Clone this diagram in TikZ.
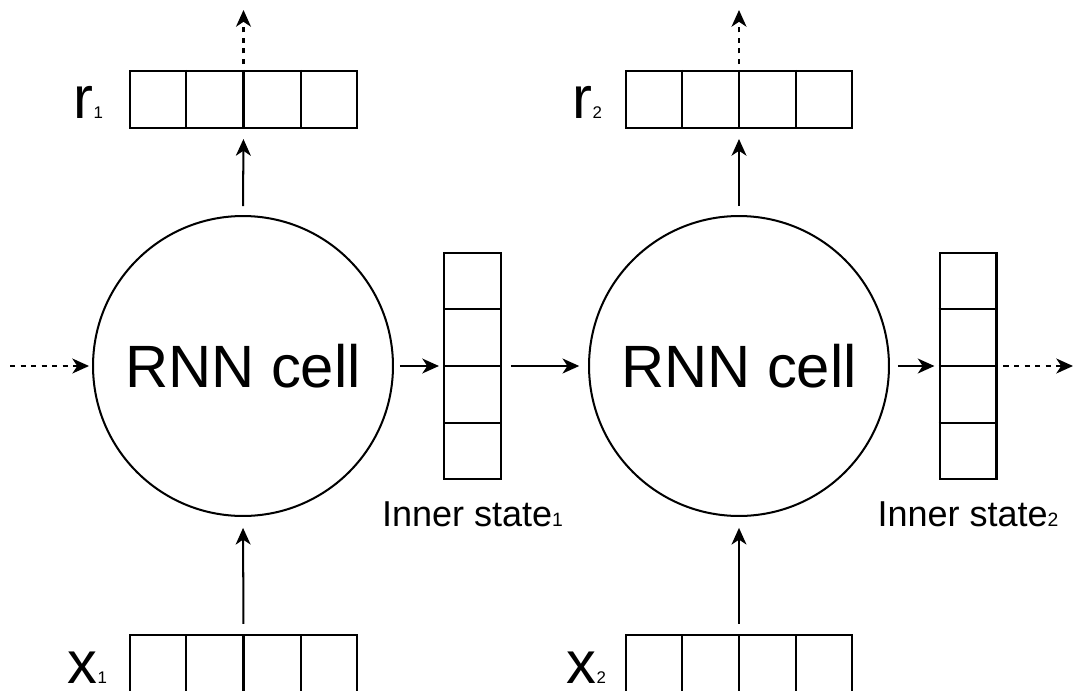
\documentclass[tikz,border=0pt]{standalone}
\usepackage{fontspec}
\setmainfont{Liberation Sans}
\usetikzlibrary{arrows.meta,calc}
\newcommand{\bigtxt}{\fontsize{34}{40}\selectfont}
\newcommand{\midtxt}{\fontsize{20.5}{24}\selectfont}
\newcommand{\subtxt}{\fontsize{9.6}{11}\selectfont}
\newcommand{\subtxtb}{\fontsize{11}{13}\selectfont}
\tikzset{
  rnncell/.style={circle,draw,minimum size=6cm,inner sep=0pt,font=\bigtxt},
  hvec/.style={draw,minimum width=4.54cm,minimum height=1.14cm,inner sep=0pt},
  vvec/.style={draw,minimum width=1.14cm,minimum height=4.52cm,inner sep=0pt},
  lbl/.style={inner sep=0pt,anchor=base east},
  dashedarr/.style={->,dash pattern=on 3pt off 3pt}
}
\begin{document}
\begin{tikzpicture}[x=0.02cm,y=-0.02cm,line width=1.15pt,>={Stealth[length=9.5pt,width=8.5pt,inset=2.8pt]}]
  \useasboundingbox (0,0) rectangle (1075,690);
  % cells and vectors
  \node[rnncell] (c1) at (243,366) {RNN cell};
  \node[rnncell] (c2) at (739,366) {RNN cell};
  \node[hvec] (r1) at (243.5,99.5) {};
  \node[hvec] (r2) at (739,99.5) {};
  \node[hvec] (x1) at (243.5,663.5) {};
  \node[hvec] (x2) at (739,663.5) {};
  \node[vvec] (s1) at (472.5,366) {};
  \node[vvec] (s2) at (968,366) {};
  \foreach \b in {r1,r2,x1,x2}
    \foreach \i in {1,2,3}
      \draw ($(\b.north west)!\i/4!(\b.north east)$) -- ($(\b.south west)!\i/4!(\b.south east)$);
  \foreach \b in {s1,s2}
    \foreach \i in {1,2,3}
      \draw ($(\b.north west)!\i/4!(\b.south west)$) -- ($(\b.north east)!\i/4!(\b.south east)$);
  % labels
  \node[lbl] (r1lab) at (104,118) {\bigtxt r\subtxt 1};
  \node[lbl] (r2lab) at (603,118) {\bigtxt r\subtxt 2};
  \node[lbl] (x1lab) at (108,683) {\bigtxt x\subtxt 1};
  \node[lbl] (x2lab) at (607,683) {\bigtxt x\subtxt 2};
  \node[inner sep=0pt,anchor=base] (s1lab) at (472.5,526) {\midtxt Inner state\subtxtb 1};
  \node[inner sep=0pt,anchor=base] (s2lab) at (968,526) {\midtxt Inner state\subtxtb 2};
  % free ends
  \coordinate (in0) at (10,366);
  \coordinate (out2) at (1073,366);
  \coordinate (r1out) at (243.5,10);
  \coordinate (r2out) at (739,10);
  % connectors
  \draw[->,shorten <=5pt,shorten >=5.7pt] (c1.north) -- (r1.south);
  \draw[->,shorten <=5pt,shorten >=5.7pt] (c2.north) -- (r2.south);
  \draw[dashedarr,shorten <=3.4pt] (r1.north) -- (r1out);
  \draw[dashedarr,shorten <=3.4pt] (r2.north) -- (r2out);
  \draw[->,shorten <=5.7pt,shorten >=6.2pt] (x1.north) -- (c1.south);
  \draw[->,shorten <=5.7pt,shorten >=6.2pt] (x2.north) -- (c2.south);
  \draw[dashedarr,shorten >=1.7pt] (in0) -- (c1.west);
  \draw[->,shorten <=3.4pt,shorten >=2.3pt] (c1.east) -- (s1.west);
  \draw[->,shorten <=5pt,shorten >=5pt] (s1.east) -- (c2.west);
  \draw[->,shorten <=4.5pt,shorten >=2.3pt] (c2.east) -- (s2.west);
  \draw[dashedarr,shorten <=3.4pt] (s2.east) -- (out2);
\end{tikzpicture}
\end{document}
